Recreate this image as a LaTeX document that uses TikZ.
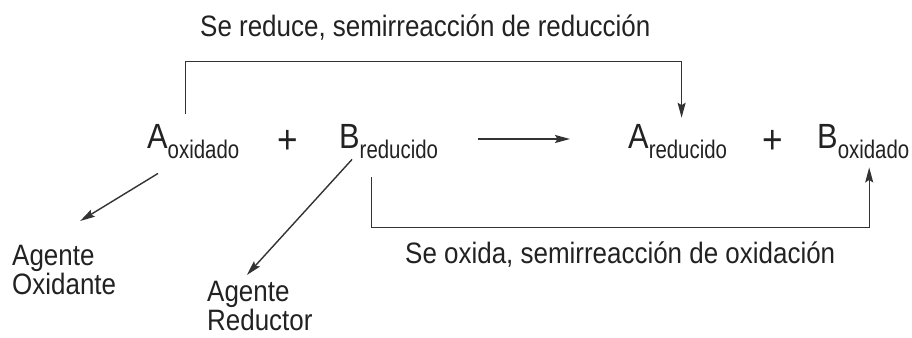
\documentclass[tikz,border=0pt]{standalone}
\usepackage{fontspec}
\setmainfont{Liberation Sans}[FakeStretch=0.88]
\newfontfamily\subfuente{Liberation Sans}[FakeStretch=0.8]
\usetikzlibrary{arrows.meta}

\definecolor{tinta}{HTML}{222222}
\definecolor{trazo}{HTML}{333333}

\newcommand{\especie}[2]{{\fontsize{35}{35}\selectfont #1}%
  \raisebox{-10pt}{\subfuente\fontsize{25.5}{25.5}\selectfont #2}}

\begin{document}
\begin{tikzpicture}[x=1pt, y=-1pt, text=tinta,
  esp/.style={anchor=base west, inner sep=0pt},
  mas/.style={inner sep=0pt, font=\fontsize{40}{40}\selectfont},
  rotulo/.style={anchor=base west, inner sep=0pt, font=\fontsize{29.5}{29.5}\selectfont},
  agente/.style={anchor=north west, inner sep=0pt, align=left,
                 font=\fontsize{29.5}{29}\selectfont},
  linea/.style={draw=trazo, line width=1.4pt},
  flecha/.style={linea, -{Stealth[length=15pt, width=8pt, inset=2.5pt]}},
]
  \useasboundingbox[fill=white] (0,0) rectangle (912,337);

  \node[rotulo] (txtred) at (200,37)  {Se reduce, semirreacción de reducción};

  \node[esp] (Aox)  at (147,148)  {\especie{A}{oxidado}};
  \node[mas] (mas1) at (288,142)  {+};
  \node[esp] (Bred) at (339,148)  {\especie{B}{reducido}};
  \node[esp] (Ared) at (628,148)  {\especie{A}{reducido}};
  \node[mas] (mas2) at (773,142)  {+};
  \node[esp] (Box)  at (817,148)  {\especie{B}{oxidado}};

  \coordinate (r1) at (478,139);
  \coordinate (r2) at (570,139);
  \draw[flecha] (r1) -- (r2);

  \node[rotulo] (txtox) at (405,263)  {Se oxida, semirreacción de oxidación};

  \node[agente] (agox)  at (12,245)   {Agente\\Oxidante};
  \node[agente] (agred) at (207,281)  {Agente\\Reductor};

  % semirreacciones
  \draw[flecha] ([xshift=-8pt, yshift=10pt]Aox.north) -- ++(0,-52)
                -| ([xshift=4pt, yshift=6pt]Ared.north);
  \draw[flecha] ([xshift=-17pt, yshift=-19pt]Bred.south) -- ++(0,50)
                -| ([xshift=6pt, yshift=-9pt]Box.south);

  % agentes
  \draw[flecha] ([xshift=11pt, yshift=-15pt]Aox.south west)
                -- ([xshift=16pt, yshift=24pt]agox.north);
  \draw[flecha] ([xshift=13pt, yshift=-1pt]Bred.south west)
                -- ([xshift=-13pt, yshift=6pt]agred.north);
\end{tikzpicture}
\end{document}
